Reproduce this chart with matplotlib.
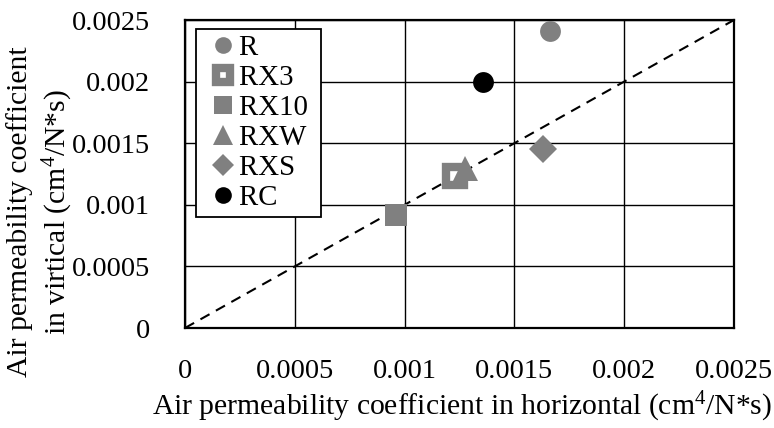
import matplotlib
matplotlib.use("Agg")
import matplotlib.pyplot as plt
from matplotlib.lines import Line2D

plt.rcParams['font.family'] = ['Liberation Serif', 'DejaVu Serif']
plt.rcParams['mathtext.fontset'] = 'custom'
plt.rcParams['mathtext.rm'] = 'Liberation Serif'
plt.rcParams['mathtext.default'] = 'regular'

# Air permeability coefficients (cm^4/N*s) for each mixture
series = ["R", "RX3", "RX10", "RXW", "RXS", "RC"]
horizontal = [0.001664, 0.001231, 0.000959, 0.001274, 0.001628, 0.001357]
vertical = [0.00241, 0.00123, 0.00092, 0.00130, 0.001449, 0.002000]

x_ticks = [0, 0.0005, 0.001, 0.0015, 0.002, 0.0025]
tick_labels = ["0", "0.0005", "0.001", "0.0015", "0.002", "0.0025"]

GRAY = "#808080"
styles = {
    "R":    dict(marker="o", ms=15, mfc=GRAY, mec=GRAY, mew=0),
    "RX3":  dict(marker="s", ms=12.5, mfc="white", mec=GRAY, mew=6),
    "RX10": dict(marker="s", ms=16, mfc=GRAY, mec=GRAY, mew=0),
    "RXW":  dict(marker="^", ms=18, mfc=GRAY, mec=GRAY, mew=0),
    "RXS":  dict(marker="D", ms=14, mfc=GRAY, mec=GRAY, mew=0),
    "RC":   dict(marker="o", ms=15, mfc="black", mec="black", mew=0),
}

FS_TITLE = 21.3
FS_TICK = 20.3
FS_LEG = 20.8
fig = plt.figure(figsize=(7.74, 4.28), dpi=100)
ax = fig.add_axes([185 / 774, 1 - 328 / 428, 549 / 774, 308 / 428])

# 1:1 reference line
ax.plot([0, 0.0025], [0, 0.0025], color="black", lw=1.5, ls=(0, (5, 3.5)), zorder=2)

handles = []
for name, xh, yv in zip(series, horizontal, vertical):
    st = styles[name]
    ax.plot([xh], [yv], ls="none", zorder=3, solid_joinstyle="round", **st)
    handles.append(Line2D([], [], ls="none", label=name + " ", **st))

ax.set_xlim(0, 0.0025)
ax.set_ylim(0, 0.0025)
ax.set_xticks(x_ticks)
ax.set_xticklabels(tick_labels)
ax.set_yticks(x_ticks)
ax.set_yticklabels(tick_labels)
ax.tick_params(length=0, labelsize=FS_TICK)
ax.tick_params(axis="x", pad=22)
ax.tick_params(axis="y", pad=25)
ax.grid(True, color="black", lw=1.0)
ax.set_axisbelow(True)
for sp in ax.spines.values():
    sp.set_linewidth(1.6)
    sp.set_color("black")

leg = ax.legend(handles=handles, loc="upper left", bbox_to_anchor=(0.020, 0.971),
                borderaxespad=0, fontsize=FS_LEG, frameon=True, fancybox=False,
                edgecolor="black", framealpha=1, markerscale=0.8,
                handlelength=1.5, handletextpad=-0.2, labelspacing=0.13,
                borderpad=0.2)
leg.get_frame().set_linewidth(1.3)
leg.set_zorder(5)

fig.text(462 / 774, 1 - 407 / 428,
         "Air permeability coefficient in horizontal (cm$^4$/N*s)",
         ha="center", va="center", fontsize=FS_TITLE)
fig.text(20 / 774, 1 - 212 / 428, "Air permeability coefficient",
         ha="center", va="center", rotation=90, fontsize=FS_TITLE)
fig.text(58 / 774, 1 - 212 / 428, "in virtical (cm$^4$/N*s)",
         ha="center", va="center", rotation=90, fontsize=FS_TITLE)

fig.savefig("out.png", dpi=100)
